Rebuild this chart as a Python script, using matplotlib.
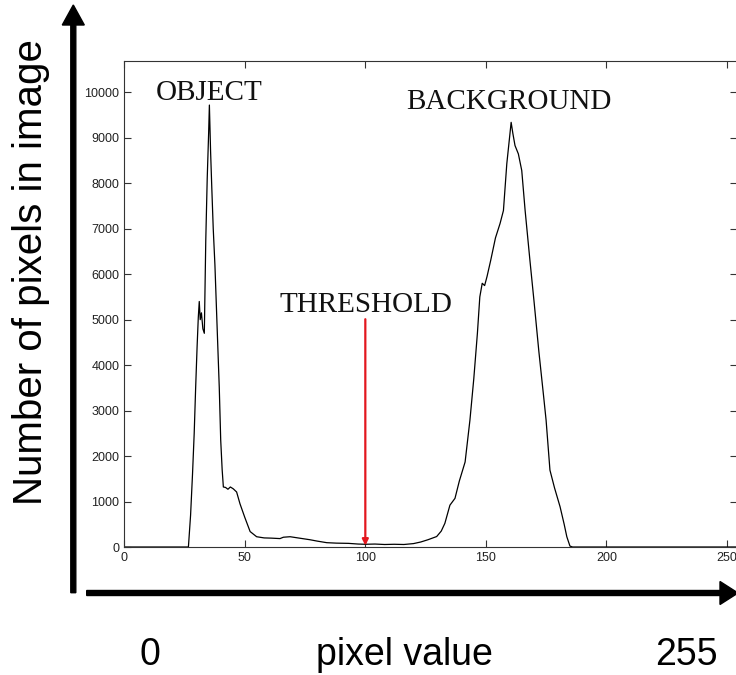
import matplotlib
matplotlib.use("Agg")
import matplotlib.pyplot as plt

# histogram of grey levels
pixel_value = [0, 26.6, 27.5, 28.3, 29.0, 29.6, 30.2, 30.7, 31.1, 31.5, 32.0, 32.6, 33.2,
               33.8, 34.4, 35.0, 35.3, 35.8, 36.3, 36.9, 37.6, 38.6, 39.4, 40.0, 40.6,
               41.1, 42.0, 43.0, 44.0, 45.2, 46.6, 48.0, 50.0, 52.2, 54.9, 58, 61, 64.6,
               66, 68.8, 72, 77, 80, 84, 88, 93, 97, 100, 104, 108, 112, 116, 120, 123,
               126, 129.6, 131.5, 133, 135.1, 137.2, 139, 141.4, 143.4, 145, 146.5,
               147.5, 148.5, 149.5, 150.5, 152, 154, 155.9, 157.3, 158.7, 160.5, 161.2,
               162.1, 163.5, 164.9, 166.3, 168.3, 170, 172, 174, 175, 176.6, 178.5,
               180.8, 182.5, 183.6, 184.9, 186, 255]
pixel_count = [0, 0, 700, 1600, 2500, 3500, 4400, 5050, 5400, 5000, 5150, 4800, 4700,
               6740, 8100, 9120, 9720, 8700, 7900, 7000, 6200, 4700, 3510, 2350, 1700,
               1320, 1310, 1270, 1320, 1280, 1210, 950, 650, 340, 226, 200, 195, 185,
               215, 226, 200, 160, 130, 95, 85, 80, 65, 60, 65, 55, 60, 55, 75, 110,
               160, 230, 350, 520, 920, 1070, 1450, 1870, 2790, 3700, 4700,
               5500, 5800, 5750, 5950, 6300, 6800, 7115, 7400, 8430, 9340, 9100,
               8830, 8645, 8280, 7400, 6300, 5400, 4300, 3300, 2790, 1690, 1300,
               885, 500, 226, 20, 0, 0]

x_ticks = [0, 50, 100, 150, 200, 250]
y_ticks = [0, 1000, 2000, 3000, 4000, 5000, 6000, 7000, 8000, 9000, 10000]
threshold = 100
labels = {"OBJECT": (35.1, 9833), "BACKGROUND": (159.6, 9642), "THRESHOLD": (100.2, 5168)}

W, H = 736, 675
fig = plt.figure(figsize=(W / 100, H / 100), dpi=100)
fig.patch.set_facecolor("white")

ax = fig.add_axes([124.3 / W, (H - 547) / H, (736.5 - 124.3) / W, (547 - 60.5) / H])
ax.plot(pixel_value, pixel_count, color="black", lw=0.9)
ax.set_xlim(0, 254)
ax.set_ylim(0, 10700)
ax.set_xticks(x_ticks)
ax.set_yticks(y_ticks)
ax.tick_params(direction="in", length=5, width=0.8, top=True, right=True,
               labelsize=9, pad=3.5, labelcolor="#222222", color="#333333")
for lab in ax.get_xticklabels() + ax.get_yticklabels():
  lab.set_family("Liberation Sans")
for sp in ax.spines.values():
  sp.set_linewidth(0.8)
  sp.set_color("#333333")

for txt, (lx, ly) in labels.items():
  ax.text(lx, ly, txt, ha="center", va="baseline", fontsize=21,
          family="Liberation Serif", color="#111111")

# red arrow at the threshold
ax.annotate("", xy=(threshold, 30), xytext=(threshold, 5010),
            arrowprops=dict(arrowstyle="-|>", color="#e3171e", lw=1.6,
                            mutation_scale=9, shrinkA=0, shrinkB=0))

# outer schematic axes, drawn in pixel space
ov = fig.add_axes([0, 0, 1, 1], zorder=5)
ov.set_xlim(0, W)
ov.set_ylim(H, 0)
ov.axis("off")
ov.patch.set_alpha(0)
ov.arrow(73.3, 592.7, 0, 5 - 592.7, width=5, head_width=22, head_length=20,
         length_includes_head=True, fc="black", ec="black")
ov.arrow(86.7, 593, 738 - 86.7, 0, width=5, head_width=23, head_length=18,
         length_includes_head=True, fc="black", ec="black")

big = dict(fontsize=27, family="Liberation Sans", color="black", va="baseline", ha="center")
ov.text(150, 665, "0", **big)
ov.text(404, 665, "pixel value", **big)
ov.text(686, 665, "255", **big)
ov.text(31, 272, "Number of pixels in image", rotation=90, ha="center", va="center",
        fontsize=29, family="Liberation Sans", color="black")

fig.savefig("out.png", dpi=100)
